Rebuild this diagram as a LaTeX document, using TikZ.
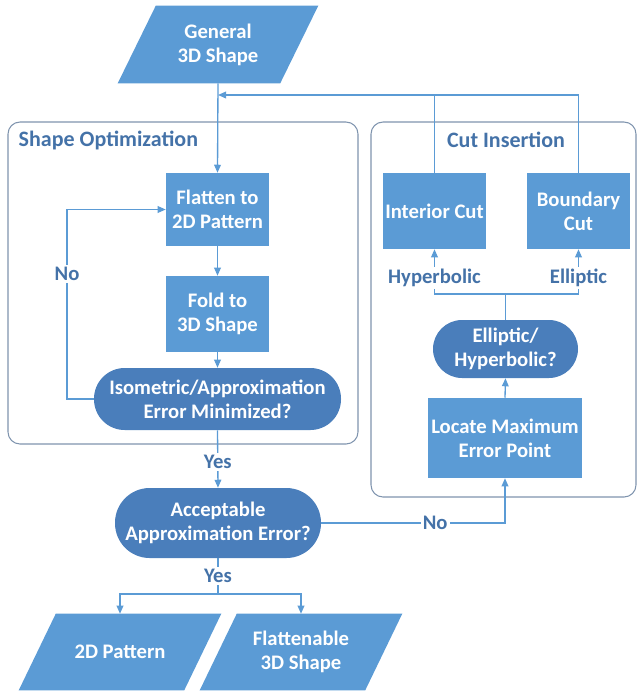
\documentclass[tikz,border=0pt]{standalone}
\usepackage{fontspec}
\setmainfont{Carlito}
\usetikzlibrary{arrows.meta}
\definecolor{boxblue}{HTML}{5B9BD5}
\definecolor{decblue}{HTML}{4A7EBB}
\definecolor{lineblue}{HTML}{5B9BD5}
\definecolor{lblblue}{HTML}{4472A8}
\definecolor{framec}{HTML}{7F94AE}
\pgfdeclarelayer{bg}
\pgfsetlayers{bg,main}
\tikzset{
  proc/.style={rectangle, fill=boxblue, text=white, align=center, inner sep=0pt},
  dec/.style={rectangle, fill=decblue, text=white, align=center, inner sep=0pt},
  io/.style={rectangle, text=white, align=center, inner sep=0pt},
  iofill/.style={fill=boxblue},
  lbl/.style={text=lblblue, fill=white, inner sep=1.5pt},
  con/.style={draw=lineblue, line width=1pt},
  arr/.style={con, -{Triangle[length=6pt,width=5pt]}},
  group/.style={draw=framec, rounded corners=9pt, line width=0.8pt},
  gtitle/.style={text=lblblue, font=\fontsize{16.5}{19}\selectfont\bfseries}
}
\begin{document}
\begin{tikzpicture}[x=0.75pt, y=-0.75pt, font=\fontsize{15.5}{18}\selectfont\bfseries]
\useasboundingbox (0,0) rectangle (637,694);
% containers
\draw[group] (8,122) rectangle (358,444);
\draw[group] (371,122) rectangle (636,497);
\node[gtitle, anchor=west] (t1) at (14,140) {Shape Optimization};
\node[gtitle] (t2) at (506,140) {Cut Insertion};
% nodes
\node[io, minimum width=150pt, minimum height=57.75pt] (gen) at (218,44.5) {General\\3D Shape};
\node[proc, minimum width=77.25pt, minimum height=54.75pt] (flat) at (217.5,209.5) {Flatten to\\2D Pattern};
\node[proc, minimum width=77.25pt, minimum height=57pt] (fold) at (217.5,314) {Fold to\\3D Shape};
\node[dec, rounded corners=23pt, minimum width=185.25pt, minimum height=46.5pt] (iso) at (217.5,399) {Isometric/Approximation\\Error Minimized?};
\node[dec, rounded corners=26pt, minimum width=154.5pt, minimum height=52.5pt] (acc) at (218,523) {Acceptable\\Approximation Error?};
\node[io, minimum width=151.5pt, minimum height=57pt] (pat) at (120,652) {2D Pattern};
\node[io, minimum width=151.5pt, minimum height=57pt] (flt) at (301,652) {Flattenable\\3D Shape};
\node[proc, minimum width=77.25pt, minimum height=57pt] (icut) at (434.5,211) {Interior Cut};
\node[proc, minimum width=77.25pt, minimum height=57pt] (bcut) at (578.5,211) {Boundary\\Cut};
\node[dec, rounded corners=21.75pt, minimum width=108.75pt, minimum height=43.5pt] (eh) at (505.5,349) {Elliptic/\\Hyperbolic?};
\node[proc, minimum width=115.5pt, minimum height=60pt] (loc) at (505,438) {Locate Maximum\\Error Point};
\node[lbl] (hyp) at (434.5,278) {Hyperbolic};
\node[lbl] (ell) at (578.5,278) {Elliptic};
% parallelogram bodies
\begin{pgfonlayer}{bg}
\foreach \n/\o in {gen/28.5pt, pat/27.75pt, flt/27.75pt}{
  \fill[iofill] ([xshift=\o]\n.north west) -- (\n.north east)
     -- ([xshift=-\o]\n.south east) -- (\n.south west) -- cycle;
}
\end{pgfonlayer}
% coordinates
\coordinate (fb) at (218,95);
\coordinate (lp) at (67,399);
\coordinate (sp) at (218,594);
\coordinate (brk) at (505.5,294);
% connectors
\draw[arr] (gen.south) -- (flat.north);
\draw[arr] (bcut.north) |- (fb);
\draw[con] (icut.north) -- (icut.north |- fb);
\draw[arr] (flat.south) -- (fold.north);
\draw[arr] (fold.south) -- (iso.north);
\draw[arr] (iso.west) -- (lp) |- node[lbl, pos=0.33] {No} (flat.west);
\draw[arr] (iso.south) -- node[lbl, pos=0.55] {Yes} (acc.north);
\draw[con] (acc.south) -- node[lbl] {Yes} (sp);
\draw[arr] (sp) -| (pat.north);
\draw[arr] (sp) -| (flt.north);
\draw[arr] (acc.east) -| node[lbl, pos=0.31] {No} (loc.south);
\draw[arr] (loc.north) -- (eh.south);
\draw[con] (eh.north) -- (brk);
\draw[con] (hyp.south) |- (brk) -| (ell.south);
\draw[arr] (hyp.north) -- (icut.south);
\draw[arr] (ell.north) -- (bcut.south);
\end{tikzpicture}
\end{document}
